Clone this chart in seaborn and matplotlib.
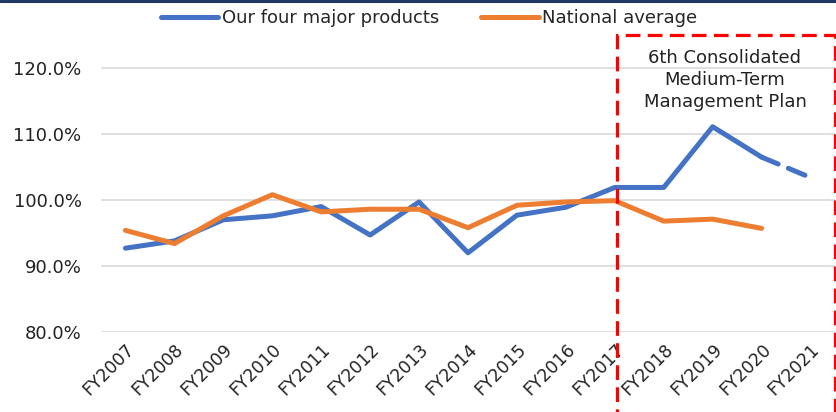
import numpy as np
import pandas as pd
import matplotlib
matplotlib.use("Agg")
import matplotlib.pyplot as plt
from matplotlib.patches import Rectangle
from matplotlib.lines import Line2D
from matplotlib.ticker import FuncFormatter
import seaborn as sns

years = ["FY2007", "FY2008", "FY2009", "FY2010", "FY2011", "FY2012", "FY2013",
         "FY2014", "FY2015", "FY2016", "FY2017", "FY2018", "FY2019", "FY2020", "FY2021"]
products = [92.7, 93.8, 97.0, 97.6, 99.0, 94.7, 99.7, 92.0, 97.7, 98.9, 101.9, 101.9, 111.1, 106.5]
products_forecast = [106.5, 103.4]          # FY2020 -> FY2021 (plan)
national = [95.4, 93.4, 97.6, 100.8, 98.2, 98.6, 98.6, 95.8, 99.2, 99.7, 99.9, 96.8, 97.1, 95.7]
yticks = [80, 90, 100, 110, 120]
plan_label = "6th Consolidated\nMedium-Term\nManagement Plan"

sns.set_theme(style="white")
plt.rcParams["font.family"] = ["DejaVu Sans"]

BLUE = "#4472C4"
ORANGE = "#ED7D31"

fig = plt.figure(figsize=(8.37, 4.12), dpi=100)
ax = fig.add_axes([101 / 837, 1 - 332 / 412, (835 - 101) / 837, (332 - 35) / 412])

df_p = pd.DataFrame({"x": np.arange(len(products)), "y": products})
df_f = pd.DataFrame({"x": np.arange(len(products) - 1, len(products) - 1 + len(products_forecast)),
                     "y": products_forecast})
df_n = pd.DataFrame({"x": np.arange(len(national)), "y": national})

lw = 3.6
sns.lineplot(data=df_p, x="x", y="y", ax=ax, color=BLUE, lw=lw,
             solid_capstyle="round", label="Our four major products", zorder=3)
sns.lineplot(data=df_n, x="x", y="y", ax=ax, color=ORANGE, lw=lw,
             solid_capstyle="round", label="National average", zorder=4)
sns.lineplot(data=df_f, x="x", y="y", ax=ax, color=BLUE, lw=lw,
             linestyle=(0, (3.6, 2.2)), dash_capstyle="round", legend=False, zorder=3)

ax.set_xlim(-0.5, len(years) - 0.5)
ax.set_ylim(80, 125)
ax.set_yticks(yticks)
ax.yaxis.set_major_formatter(FuncFormatter(lambda v, p: f"{v:.1f}%"))
ax.set_xticks(np.arange(len(years)))
ax.set_xticklabels(years, rotation=45, ha="right", rotation_mode="anchor")
ax.tick_params(axis="x", labelsize=12.5, pad=6, length=0, colors="#222222")
ax.tick_params(axis="y", labelsize=13, pad=14, length=0, colors="#222222")
ax.set_xlabel("")
ax.set_ylabel("")
for v in yticks:
    ax.axhline(v, color="#D9D9D9", lw=1.2, zorder=1)
for s in ax.spines.values():
    s.set_visible(False)

leg = ax.legend(loc="center", bbox_to_anchor=(429 / 837, 1 - 18 / 412),
                bbox_transform=fig.transFigure, ncol=2, frameon=False,
                fontsize=13, handlelength=3.2, handletextpad=0.2, columnspacing=2.3)

# red dashed plan box
rect = Rectangle((617 / 837, -1.2 / 412), (835 - 617) / 837, (412 - 35 + 1.2) / 412,
                 transform=fig.transFigure, fill=False, edgecolor="#FF0000",
                 lw=2.3, linestyle=(0, (4.6, 2.3)), clip_on=False, zorder=10)
fig.add_artist(rect)
fig.text(725 / 837, 1 - 80 / 412, plan_label, ha="center", va="center",
         fontsize=13, linespacing=1.32, color="#222222")

# top dark rule
fig.add_artist(Line2D([0, 1], [1 - 1 / 412, 1 - 1 / 412], transform=fig.transFigure,
                      color="#1F3864", lw=2.2))

fig.savefig("out.png", dpi=100)
